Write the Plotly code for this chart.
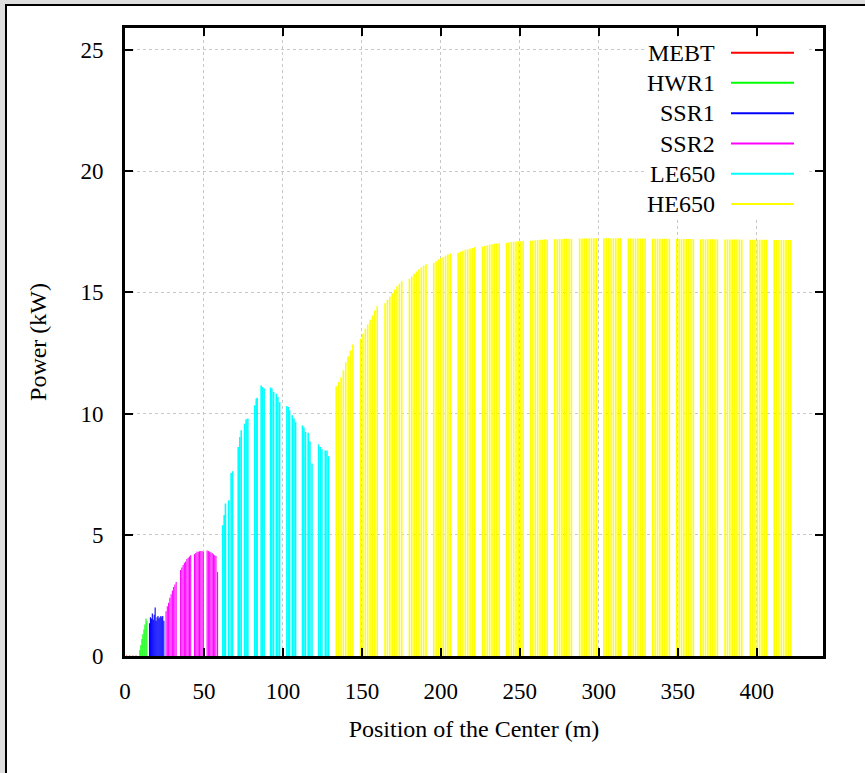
import plotly.graph_objects as go

# ---------------- data ----------------
sections = ["MEBT", "HWR1", "SSR1", "SSR2", "LE650", "HE650"]
colors = ["#ff0000", "#00ff00", "#0000ff", "#ff00ff", "#00ffff", "#ffff00"]
widths = [1.0, 1.0, 1.1, 1.1, 1.6, 1.6]

mebt_pos = [1.0, 3.0, 5.0, 7.0]
mebt_pow = [0.02, 0.02, 0.02, 0.02]

hwr1_pos = [9.4, 10.0, 10.7, 11.3, 12.0, 12.6, 13.3, 13.9]
hwr1_pow = [0.25, 0.45, 0.70, 0.90, 1.10, 1.30, 1.55, 1.45]

ssr1_pos = [15.5, 16.1, 16.7, 17.3, 17.9, 18.5, 19.1, 19.7,
            20.3, 20.9, 21.5, 22.1, 22.7, 23.3, 23.9, 24.6]
ssr1_pow = [1.35, 1.60, 1.55, 1.75, 1.50, 1.70, 2.00, 1.45,
            1.60, 1.65, 1.55, 1.60, 1.65, 1.60, 1.65, 1.45]

ssr2_pos = [26.0, 26.8, 27.6, 28.4, 29.2, 30.0, 30.8, 31.6, 32.4,
            35.2, 36.0, 36.8, 37.6, 38.4, 39.2, 40.0, 40.8, 41.6,
            44.0, 44.8, 45.6, 46.4, 47.2, 48.0, 48.8, 49.6,
            52.0, 52.8, 53.6, 54.4, 55.2, 56.0, 56.8, 57.6, 58.6]
ssr2_pow = [1.85, 2.05, 2.20, 2.40, 2.55, 2.70, 2.85, 2.95, 3.05,
            3.55, 3.65, 3.75, 3.85, 3.90, 4.00, 4.05, 4.10, 4.15,
            4.20, 4.25, 4.30, 4.30, 4.32, 4.33, 4.33, 4.30,
            4.35, 4.33, 4.30, 4.28, 4.25, 4.20, 4.15, 4.12, 3.47]

le650_pos = [61.9, 62.8, 63.6, 65.7, 67.2, 68.1,
             71.7, 72.7, 73.6, 75.7, 76.7, 77.8,
             82.2, 83.1, 83.7, 86.2, 87.1, 88.1,
             92.2, 93.0, 94.1, 95.8, 96.8, 97.9,
             102.5, 103.4, 104.2, 105.9, 107.0, 108.0,
             112.4, 113.3, 114.3, 116.0, 117.1, 118.4,
             122.6, 123.7, 124.7, 126.8, 127.9, 128.9]
le650_pow = [5.40, 5.81, 6.29, 6.42, 7.55, 7.62,
             8.62, 9.03, 9.31, 9.58, 9.76, 9.79,
             10.34, 10.61, 10.65, 11.16, 11.09, 11.03,
             11.07, 11.03, 10.89, 10.82, 10.68, 10.47,
             10.31, 10.27, 10.13, 9.93, 9.79, 9.65,
             9.51, 9.42, 9.24, 9.21, 8.85, 7.94,
             8.73, 8.62, 8.53, 8.48, 8.48, 8.24]

he650_pos = [133.8, 135.3, 136.8, 138.3, 139.8, 141.3, 142.8, 144.3,
             149.2, 150.7, 152.2, 153.7, 155.2, 156.7, 158.2, 159.7,
             164.7, 166.2, 167.7, 169.2, 170.7, 172.2, 173.7, 175.2,
             180.1, 181.6, 183.1, 184.6, 186.1, 187.6, 189.1, 190.6,
             195.5, 197.0, 198.5, 200.0, 201.5, 203.0, 204.5, 206.0,
             211.0, 212.5, 214.0, 215.5, 217.0, 218.5, 220.0, 221.5,
             226.4, 227.9, 229.4, 230.9, 232.4, 233.9, 235.4, 236.9,
             241.6, 243.1, 244.6, 246.1, 247.6, 249.1, 250.6, 252.1,
             256.8, 258.3, 259.8, 261.3, 262.8, 264.3, 265.8, 267.3,
             272.2, 273.7, 275.2, 276.7, 278.2, 279.7, 281.2, 282.7,
             287.9, 289.4, 290.9, 292.4, 293.9, 295.4, 296.9, 298.4,
             303.3, 304.8, 306.3, 307.8, 309.3, 310.8, 312.3, 313.8,
             318.8, 320.3, 321.8, 323.3, 324.8, 326.3, 327.8, 329.3,
             334.2, 335.7, 337.2, 338.7, 340.2, 341.7, 343.2, 344.7,
             349.4, 350.9, 352.4, 353.9, 355.4, 356.9, 358.4, 359.9,
             364.6, 366.1, 367.6, 369.1, 370.6, 372.1, 373.6, 375.1,
             380.0, 381.5, 383.0, 384.5, 386.0, 387.5, 389.0, 390.5,
             395.9, 397.4, 398.9, 400.4, 401.9, 403.4, 404.9, 406.4,
             411.1, 412.6, 414.1, 415.6, 417.1, 418.6, 420.1, 421.6]
he650_pow = [11.13, 11.30, 11.50, 11.78, 12.12, 12.36, 12.60, 12.85,
             13.08, 13.29, 13.50, 13.67, 13.87, 14.04, 14.25, 14.42,
             14.55, 14.69, 14.83, 14.96, 15.10, 15.24, 15.35, 15.46,
             15.56, 15.65, 15.76, 15.86, 15.94, 16.02, 16.09, 16.16,
             16.21, 16.28, 16.35, 16.41, 16.46, 16.52, 16.56, 16.60,
             16.63, 16.67, 16.71, 16.75, 16.78, 16.80, 16.83, 16.86,
             16.89, 16.91, 16.94, 16.97, 16.98, 17.00, 17.01, 17.02,
             17.04, 17.05, 17.07, 17.08, 17.09, 17.10, 17.11, 17.12,
             17.13, 17.14, 17.15, 17.16, 17.17, 17.17, 17.18, 17.18,
             17.19, 17.19, 17.20, 17.20, 17.21, 17.21, 17.21, 17.21,
             17.22, 17.22, 17.22, 17.22, 17.23, 17.23, 17.23, 17.23,
             17.23, 17.23, 17.23, 17.23, 17.23, 17.23, 17.23, 17.23,
             17.22, 17.22, 17.22, 17.22, 17.22, 17.22, 17.22, 17.22,
             17.21, 17.21, 17.21, 17.21, 17.21, 17.21, 17.21, 17.21,
             17.20, 17.20, 17.20, 17.20, 17.20, 17.20, 17.20, 17.20,
             17.19, 17.19, 17.19, 17.19, 17.19, 17.19, 17.19, 17.19,
             17.18, 17.18, 17.18, 17.18, 17.18, 17.18, 17.18, 17.18,
             17.17, 17.17, 17.17, 17.17, 17.17, 17.17, 17.17, 17.17,
             17.16, 17.16, 17.16, 17.16, 17.16, 17.16, 17.16, 17.16]

series_pos = [mebt_pos, hwr1_pos, ssr1_pos, ssr2_pos, le650_pos, he650_pos]
series_pow = [mebt_pow, hwr1_pow, ssr1_pow, ssr2_pow, le650_pow, he650_pow]

x_ticks = [0, 50, 100, 150, 200, 250, 300, 350, 400]
y_ticks = [0, 5, 10, 15, 20, 25]

FONT = "Liberation Serif, Times New Roman, serif"


def impulses(xs, ys):
    X, Y = [], []
    for x, y in zip(xs, ys):
        X += [x, x, None]
        Y += [0, y, None]
    return X, Y


fig = go.Figure()
for name, col, w, xs, ys in zip(sections, colors, widths, series_pos, series_pow):
    X, Y = impulses(xs, ys)
    fig.add_trace(go.Scatter(x=X, y=Y, mode="lines", name=name,
                             line=dict(color=col, width=w),
                             showlegend=False, hoverinfo="skip"))

# plot-area geometry (pixels) used for paper-coordinate decorations
L, R, T, B = 125, 42, 28, 117
W, H = 865, 773
PW, PH = W - L - R, H - T - B


def px_x(p):
    return (p - L) / PW


def px_y(p):
    return 1 - (p - T) / PH


shapes = []
# white panel with black frame on the grey page
shapes.append(dict(type="rect", xref="paper", yref="paper", layer="below",
                   x0=px_x(6), x1=px_x(900), y0=px_y(800), y1=px_y(5),
                   fillcolor="white", line=dict(color="black", width=2)))
# key background (hides grid)
shapes.append(dict(type="rect", xref="paper", yref="paper", layer="above",
                   x0=px_x(647), x1=px_x(808), y0=px_y(219), y1=px_y(37),
                   fillcolor="white", line=dict(width=0)))
annotations = []
row_y = [52.7, 82.7, 113.2, 143.5, 173.7, 204.0]
for name, col, ry in zip(sections, colors, row_y):
    shapes.append(dict(type="line", xref="paper", yref="paper", layer="above",
                       x0=px_x(731), x1=px_x(794), y0=px_y(ry), y1=px_y(ry),
                       line=dict(color=col, width=2)))
    annotations.append(dict(xref="paper", yref="paper", x=px_x(717), y=px_y(ry),
                            xanchor="right", yanchor="middle", showarrow=False,
                            text=name, font=dict(family=FONT, size=24, color="black")))

axis_common = dict(showline=True, linecolor="black", linewidth=3, mirror="ticks",
                   ticks="inside", ticklen=8, tickwidth=2, tickcolor="black",
                   showgrid=True, gridcolor="#c8c8c8", griddash="dot", gridwidth=1,
                   zeroline=False, tickfont=dict(family=FONT, size=23, color="black"))

fig.update_layout(
    width=W, height=H,
    margin=dict(l=L, r=R, t=T, b=B),
    paper_bgcolor="#dedede",
    plot_bgcolor="white",
    showlegend=False,
    shapes=shapes,
    annotations=annotations,
    xaxis=dict(range=[0, 442], tickvals=x_ticks, ticklabelstandoff=12,
               title=dict(text="Position of the Center (m)", standoff=18,
                          font=dict(family=FONT, size=24, color="black")),
               **axis_common),
    yaxis=dict(range=[0, 25.9], tickvals=y_ticks, ticklabelstandoff=14,
               title=dict(text="Power (kW)", standoff=28,
                          font=dict(family=FONT, size=24, color="black")),
               **axis_common),
)

fig.write_html("out.html")
